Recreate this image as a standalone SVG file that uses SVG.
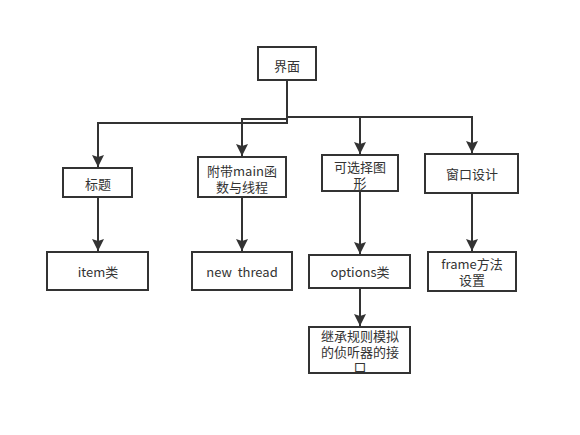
<svg xmlns="http://www.w3.org/2000/svg" width="580" height="435" viewBox="0 0 580 435">
<style>
.n rect{fill:#fff;stroke:#333;stroke-width:2}
.n text{font-family:"Noto Sans CJK SC","Microsoft YaHei",sans-serif;font-size:13px;fill:#333;text-anchor:middle;dominant-baseline:central;white-space:pre}
.c path{fill:none;stroke:#333;stroke-width:2}
</style>
<defs>
<marker id="a" markerUnits="userSpaceOnUse" markerWidth="12" markerHeight="14" viewBox="0 0 12 14" refX="12" refY="6" orient="auto">
<path d="M0,0 L12,6 L0,12 L2,6 Z" fill="#333"/>
</marker>
</defs>
<rect width="580" height="435" fill="#fff"/>
<g class="c">
<path d="M287,80 V123 H98 V167" marker-end="url(#a)"/>
<path d="M287,119 H242 V156" marker-end="url(#a)"/>
<path d="M287,117 H360 V154" marker-end="url(#a)"/>
<path d="M360,117 H472 V153" marker-end="url(#a)"/>
<path d="M98,197 V251" marker-end="url(#a)"/>
<path d="M242,197 V251" marker-end="url(#a)"/>
<path d="M360,191 V254" marker-end="url(#a)"/>
<path d="M472,193 V251" marker-end="url(#a)"/>
<path d="M360,288 V326" marker-end="url(#a)"/>
</g>
<g id="root" class="n"><rect x="258" y="47" width="58" height="33"/><text x="287" y="65">界面</text></g>
<g id="title" class="n"><rect x="63" y="168" width="69" height="29"/><text x="98" y="183">标题</text></g>
<g id="main" class="n"><rect x="198" y="157" width="88" height="40"/><text x="242" y="170">附带main函<tspan x="242" y="186">数与线程</tspan></text></g>
<g id="shape" class="n"><rect x="322" y="155" width="76" height="36"/><text x="360" y="166">可选择图<tspan x="360" y="182">形</tspan></text></g>
<g id="window" class="n"><rect x="425" y="154" width="93" height="39"/><text x="472" y="173">窗口设计</text></g>
<g id="item" class="n"><rect x="47" y="252" width="101" height="38"/><text x="98" y="271">item类</text></g>
<g id="thread" class="n"><rect x="192" y="252" width="100" height="38"/><text x="242" y="271">new&#160; thread</text></g>
<g id="options" class="n"><rect x="309" y="255" width="101" height="33"/><text x="360" y="271">options类</text></g>
<g id="frame" class="n"><rect x="428" y="252" width="88" height="39"/><text x="472" y="263">frame方法<tspan x="472" y="279">设置</tspan></text></g>
<g id="inherit" class="n"><rect x="309" y="327" width="101" height="46"/><text x="360" y="335">继承规则模拟<tspan x="360" y="351">的侦听器的接</tspan><tspan x="360" y="366">口</tspan></text></g>
</svg>
